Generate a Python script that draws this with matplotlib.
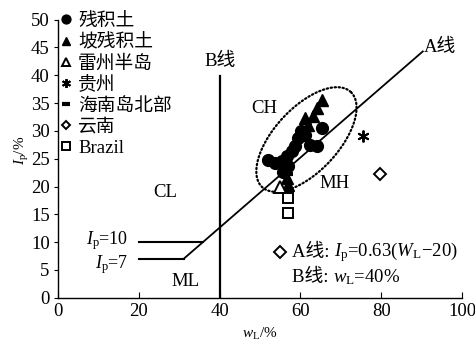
import numpy as np
import matplotlib
matplotlib.use("Agg")
import matplotlib.pyplot as plt

plt.rcParams['font.family'] = ['Liberation Serif', 'Noto Sans CJK SC']
plt.rcParams['mathtext.fontset'] = 'custom'
plt.rcParams['mathtext.rm'] = 'Liberation Serif'
plt.rcParams['mathtext.it'] = 'Liberation Serif:italic'
plt.rcParams['axes.unicode_minus'] = False

# --- data: liquid limit wL (%) and plasticity index Ip (%) ---
residual_wl = [52.0, 53.7, 55.4, 57.0, 56.6, 57.8, 58.7, 59.5, 61.1, 62.4, 64.0, 65.3, 60.2, 55.8]
residual_ip = [24.8, 24.2, 24.5, 23.6, 25.4, 26.3, 27.2, 28.7, 29.3, 27.5, 27.2, 30.5, 30.0, 22.6]

slope_wl = [65.3, 64.0, 61.1, 63.2, 62.0, 60.0, 56.6, 57.0]
slope_ip = [35.6, 34.1, 32.3, 32.6, 31.0, 29.5, 21.5, 20.3]

leizhou_wl = [55.0]
leizhou_ip = [20.0]

guizhou_wl = [75.5]
guizhou_ip = [29.0]

hainan_wl = [56.8]
hainan_ip = [22.3]

yunnan_wl = [79.7, 55.0]
yunnan_ip = [22.3, 8.3]

brazil_wl = [57.0, 57.0]
brazil_ip = [17.9, 15.3]

# A line: Ip = 0.63 (wL - 20); B line: wL = 40 %
a_line_wl = [31.1, 90.3]
b_line_wl = 40
b_line_top = 39.8
ip_limits = [10, 7]

x_ticks = [0, 20, 40, 60, 80, 100]
y_ticks = [0, 5, 10, 15, 20, 25, 30, 35, 40, 45, 50]

fig = plt.figure(figsize=(4.75, 3.45), dpi=100)
ax = fig.add_axes([0.1221, 0.137, 0.8505, 0.806])
ax.set_xlim(0, 100)
ax.set_ylim(0, 50)

fs = 13.5
lw = 1.3

# classification lines
wl_a = np.array(a_line_wl)
ax.plot(wl_a, 0.63 * (wl_a - 20), color='k', lw=lw)
ax.plot([b_line_wl, b_line_wl], [0, b_line_top], color='k', lw=lw + 0.3)
for ip in ip_limits:
    ax.plot([20, ip / 0.63 + 20], [ip, ip], color='k', lw=lw + 0.2)

# dotted ellipse around the residual-soil cluster (drawn in screen-proportional units)
cx, cy = 61.5, 28.45
a_px, b_px, theta = 65.0, 32.0, np.deg2rad(47)
px_x, px_y = 404 / 100, 278 / 50
t = np.linspace(0, 2 * np.pi, 200)
ex = a_px * np.cos(t) * np.cos(theta) - b_px * np.sin(t) * np.sin(theta)
ey = a_px * np.cos(t) * np.sin(theta) + b_px * np.sin(t) * np.cos(theta)
ax.plot(cx + ex / px_x, cy + ey / px_y, color='k', lw=1.6, ls=(0, (0.6, 1.2)),
        dash_capstyle='round')

# data series
ms = 8.5
ax.plot(residual_wl, residual_ip, 'o', color='k', ms=ms, label='残积土')
ax.plot(slope_wl, slope_ip, '^', color='k', ms=ms, label='坡残积土')
ax.plot(leizhou_wl, leizhou_ip, '^', color='k', mfc='white', mew=1.4, ms=ms - 0.5, label='雷州半岛')
ax.plot(guizhou_wl, guizhou_ip, marker=(6, 2, 0), ls='none', color='k', mew=1.4, ms=ms, label='贵州')
ax.plot(hainan_wl, hainan_ip, '_', color='k', mew=3, ms=ms, label='海南岛北部')
ax.plot(yunnan_wl, yunnan_ip, 'D', color='k', mfc='white', mew=1.4, ms=ms - 2.5, label='云南')
ax.plot(brazil_wl, brazil_ip, 's', color='k', mfc='white', mew=1.4, ms=ms - 1.5, label='Brazil')

leg = ax.legend(loc='upper left', bbox_to_anchor=(0.003, 1.025), frameon=False,
                fontsize=fs, handlelength=0.7, handletextpad=0.3, labelspacing=0.2,
                borderpad=0.0, borderaxespad=0.0, markerscale=0.75)

# region and line labels
ax.text(40, 42.5, 'B线', fontsize=fs, ha='center', va='center')
ax.text(94.5, 45, 'A线', fontsize=fs, ha='center', va='center')
ax.text(51, 34, 'CH', fontsize=fs, ha='center', va='center')
ax.text(68.5, 20.5, 'MH', fontsize=fs, ha='center', va='center')
ax.text(26.5, 19, 'CL', fontsize=fs, ha='center', va='center')
ax.text(31.5, 3, 'ML', fontsize=fs, ha='center', va='center')
ax.text(17.5, 10.2, r'$I_\mathrm{p}$=10', fontsize=fs - 0.5, ha='right', va='center')
ax.text(17.5, 5.9, r'$I_\mathrm{p}$=7', fontsize=fs - 0.5, ha='right', va='center')

# equation notes: the CJK prefix and the formula are separate texts
ta = ax.text(57.8, 8.2, 'A线: ', fontsize=fs, ha='left', va='center')
ax.annotate(r'$I_\mathrm{p}$=0.63($W_\mathrm{L}$−20)', xy=(1, 0.5), xycoords=ta,
            fontsize=fs, ha='left', va='center')
tb = ax.text(57.8, 3.7, 'B线: ', fontsize=fs, ha='left', va='center')
ax.annotate(r'$w_\mathrm{L}$=40%', xy=(1, 0.5), xycoords=tb,
            fontsize=fs, ha='left', va='center')

# axes styling
for side in ('top', 'right'):
    ax.spines[side].set_visible(False)
ax.spines['left'].set_linewidth(1.0)
ax.spines['bottom'].set_linewidth(1.0)
ax.set_xticks(x_ticks)
ax.set_yticks(y_ticks)
ax.tick_params(axis='x', direction='in', length=4, labelsize=fs, pad=4)
ax.tick_params(axis='y', direction='out', length=3, labelsize=fs, pad=3)
ax.set_xlabel(r'$w_\mathrm{L}$/%', fontsize=fs - 2.5, va='center')
ax.xaxis.set_label_coords(0.5, -0.132)
ax.set_ylabel(r'$I_\mathrm{p}$/%', fontsize=fs - 2.5, va='center')
ax.yaxis.set_label_coords(-0.088, 0.53)

fig.savefig('out.png', dpi=100)
